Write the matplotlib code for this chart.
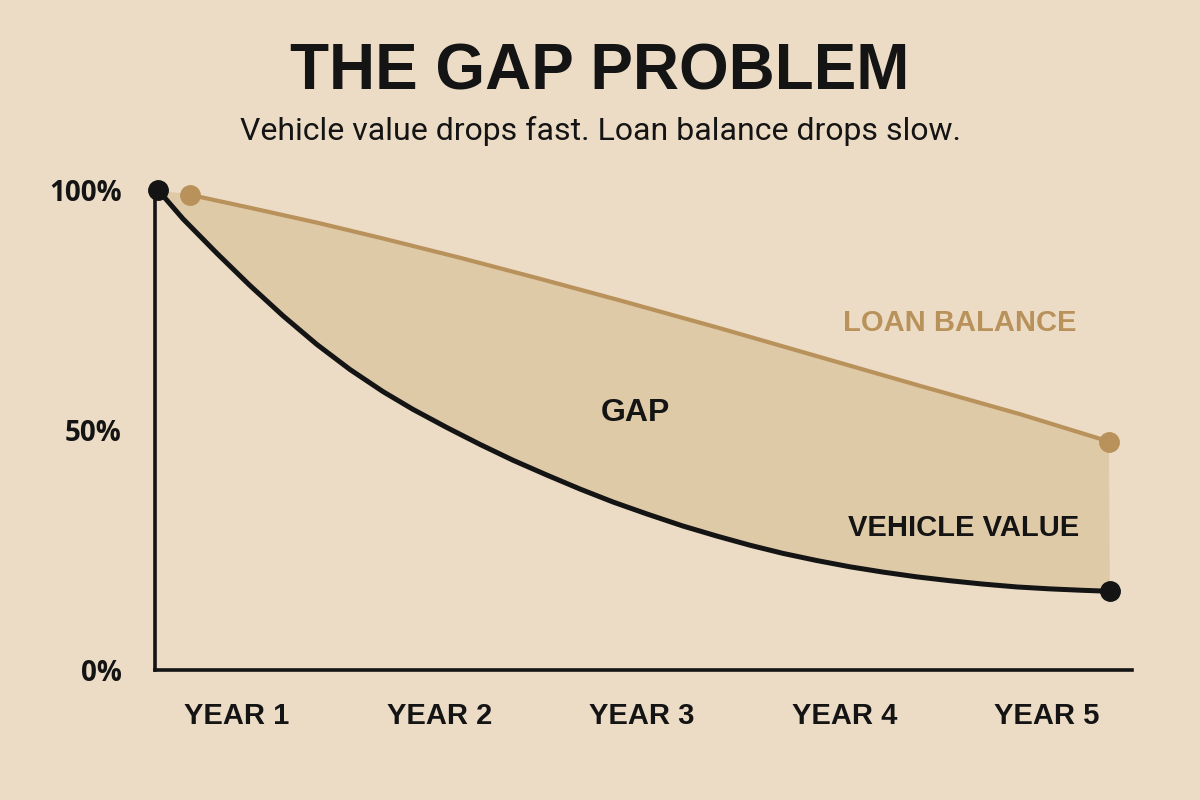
import matplotlib
matplotlib.use("Agg")
import matplotlib.pyplot as plt

# values (x in years, y in % of original value)
vehicle_x = [0.610, 0.733, 0.901, 1.064, 1.227, 1.395, 1.558, 1.721, 1.869, 2.037,
             2.200, 2.363, 2.531, 2.694, 2.857, 3.025, 3.202, 3.370, 3.533, 3.696,
             3.864, 4.027, 4.190, 4.358, 4.521, 4.684, 4.852, 5.015, 5.178, 5.311]
vehicle_y = [100, 94.0, 86.8, 80.1, 73.8, 67.8, 62.6, 58.0, 54.3, 50.5,
             47.0, 43.7, 40.6, 37.7, 35.0, 32.5, 30.0, 27.9, 26.0, 24.3,
             22.8, 21.5, 20.4, 19.4, 18.6, 17.9, 17.3, 16.9, 16.6, 16.4]
loan_x = [0.768, 1.064, 1.395, 1.721, 2.100, 2.496, 2.891, 3.385, 3.879, 4.373, 4.867, 5.306]
loan_y = [99.0, 96.3, 93.2, 89.9, 85.9, 81.5, 77.0, 71.2, 65.2, 59.2, 53.3, 47.6]
years = [1, 2, 3, 4, 5]
year_labels = ["YEAR 1", "YEAR 2", "YEAR 3", "YEAR 4", "YEAR 5"]
pct_ticks = [0, 50, 100]
pct_labels = ["0%", "50%", "100%"]

BG = "#ecdcc6"
FILL = "#dfcaa8"
GOLD = "#b8925a"
INK = "#141414"

fig = plt.figure(figsize=(12, 8), dpi=100, facecolor=BG)
ax = fig.add_axes([155 / 1200, 130 / 800, (1132 - 155) / 1200, 480 / 800])
ax.set_facecolor(BG)

# shaded gap between the two series
poly_x = loan_x + vehicle_x[::-1]
poly_y = loan_y + vehicle_y[::-1]
ax.fill(poly_x, poly_y, color=FILL, lw=0, zorder=1)

ax.plot(loan_x, loan_y, color=GOLD, lw=3, zorder=3, solid_capstyle="round",
        solid_joinstyle="round")
ax.plot([loan_x[0], loan_x[-1]], [loan_y[0], loan_y[-1]], "o", color=GOLD,
        ms=14, zorder=4, clip_on=False)
ax.plot(vehicle_x, vehicle_y, color=INK, lw=3.6, zorder=5, solid_capstyle="round",
        solid_joinstyle="round")
ax.plot([vehicle_x[0], vehicle_x[-1]], [vehicle_y[0], vehicle_y[-1]], "o", color=INK,
        ms=14, zorder=6, clip_on=False)

ax.set_xlim(0.595, 5.42)
ax.set_ylim(0, 100)

for s in ["top", "right"]:
    ax.spines[s].set_visible(False)
for s in ["left", "bottom"]:
    ax.spines[s].set_linewidth(2.6)
    ax.spines[s].set_color(INK)

ax.set_xticks(years)
ax.set_xticklabels(year_labels, fontsize=21, fontweight="bold", color=INK,
                   family=["Liberation Sans"])
ax.set_yticks(pct_ticks)
ax.set_yticklabels(pct_labels, fontsize=20, fontweight="bold", color=INK,
                   family=["Open Sans", "DejaVu Sans"])
ax.tick_params(axis="x", length=0, pad=23)
ax.tick_params(axis="y", length=0, pad=24)

# annotations
ax.text(2.97, 53.5, "GAP", fontsize=23, fontweight="bold", color=INK,
        ha="center", va="center", family=["Liberation Sans"])
ax.text(4.57, 72.3, "LOAN BALANCE", fontsize=21, fontweight="bold", color=GOLD,
        ha="center", va="center", family=["Liberation Sans"])
ax.text(4.59, 29.6, "VEHICLE VALUE", fontsize=21, fontweight="bold", color=INK,
        ha="center", va="center", family=["Liberation Sans"])

fig.text(0.5, 1 - 73 / 800, "THE GAP PROBLEM", fontsize=46, fontweight="bold",
         color=INK, ha="center", va="center", family=["Liberation Sans"])
fig.text(0.5, 1 - 131 / 800, "Vehicle value drops fast. Loan balance drops slow.",
         fontsize=23, color=INK, ha="center", va="center", family=["Roboto"])

fig.savefig("out.png", dpi=100, facecolor=BG)
